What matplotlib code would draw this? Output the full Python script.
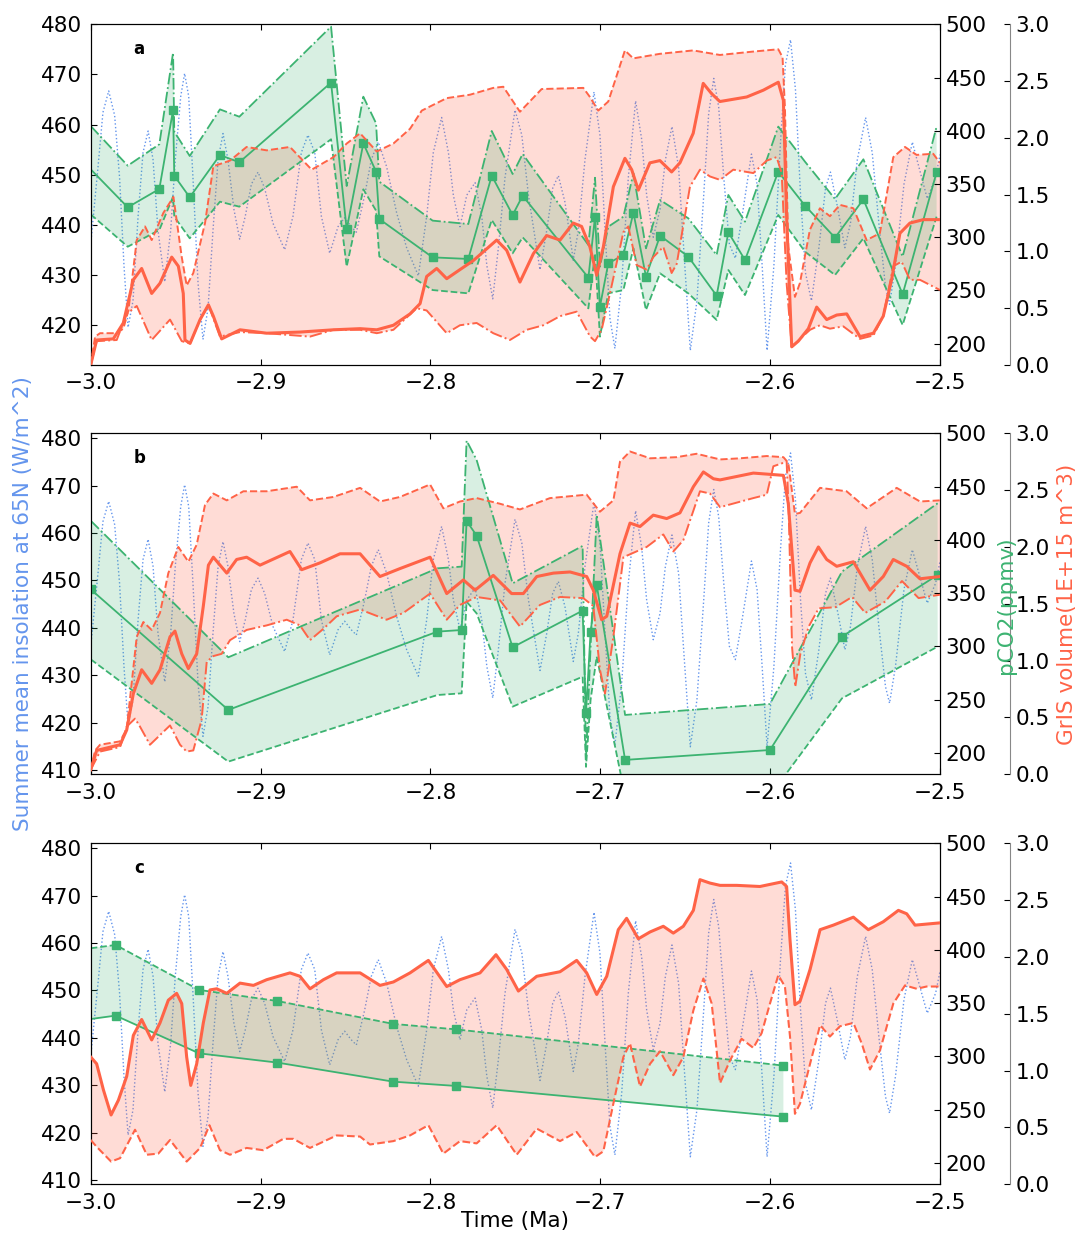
import numpy as np
import matplotlib
matplotlib.use('Agg')
import matplotlib.pyplot as plt

# ---------------- data ----------------
xticks = [-3.0, -2.9, -2.8, -2.7, -2.6, -2.5]
co2_ticks = [200, 250, 300, 350, 400, 450, 500]
gris_ticks = [0.0, 0.5, 1.0, 1.5, 2.0, 2.5, 3.0]

# summer insolation at 65N (same series in every panel)
ins_t = [-3.0, -2.9957, -2.9928, -2.9894, -2.9859, -2.9830, -2.9804, -2.9780, -2.9751, -2.9721,
         -2.9692, -2.9662, -2.9633, -2.9604, -2.9564, -2.9529, -2.9502, -2.9470, -2.9447, -2.9423,
         -2.9398, -2.9368, -2.9339, -2.9309, -2.9280, -2.9250, -2.9221, -2.9192, -2.9157, -2.9123,
         -2.9090, -2.9054, -2.9015, -2.8976, -2.8927, -2.8858, -2.8809, -2.8760, -2.8721, -2.8681,
         -2.8642, -2.8593, -2.8544, -2.8505, -2.8466, -2.8436, -2.8387, -2.8348, -2.8307, -2.8258,
         -2.8199, -2.8140, -2.8071, -2.8022, -2.7983, -2.7934, -2.7894, -2.7865, -2.7826, -2.7786,
         -2.7737, -2.7698, -2.7668, -2.7633, -2.7600, -2.7561, -2.7502, -2.7462, -2.7423, -2.7355,
         -2.7315, -2.7280, -2.7247, -2.7208, -2.7178, -2.7159, -2.7129, -2.7090, -2.7037, -2.7002,
         -2.6972, -2.6943, -2.6914, -2.6874, -2.6835, -2.6792, -2.6757, -2.6727, -2.6688, -2.6648,
         -2.6617, -2.6578, -2.6539, -2.6509, -2.6470, -2.6431, -2.6391, -2.6362, -2.6332, -2.6303,
         -2.6273, -2.6240, -2.6205, -2.6165, -2.6110, -2.6077, -2.6047, -2.6018, -2.5978, -2.5939,
         -2.5910, -2.5880, -2.5851, -2.5821, -2.5792, -2.5757, -2.5713, -2.5674, -2.5645, -2.5605,
         -2.5560, -2.5527, -2.5487, -2.5438, -2.5399, -2.5360, -2.5321, -2.5297, -2.5262, -2.5212,
         -2.5163, -2.5124, -2.5075, -2.5026, -2.5]
ins_v = [436.1, 451.5, 462.4, 466.7, 461.8, 449.4, 431.8, 419.5, 424.8, 441.7,
         454.4, 458.7, 453.0, 438.9, 428.6, 438.9, 453.0, 465.6, 470.2, 465.6,
         449.4, 428.3, 417.1, 423.4, 438.9, 453.0, 458.2, 453.0, 443.1, 437.1,
         441.7, 448.1, 450.5, 447.3, 440.3, 435.0, 441.7, 454.4, 457.9, 454.4,
         441.7, 434.3, 439.6, 441.4, 439.6, 438.5, 445.9, 453.0, 456.5, 451.6,
         442.4, 435.4, 429.8, 441.7, 454.4, 461.4, 454.4, 445.9, 439.6, 445.9,
         448.4, 441.7, 431.9, 425.2, 435.4, 449.4, 462.9, 457.9, 445.9, 431.0,
         438.9, 447.3, 449.8, 444.5, 437.5, 432.9, 438.9, 453.0, 466.5, 457.9,
         438.9, 421.3, 415.3, 428.3, 449.4, 464.7, 457.2, 445.9, 437.5, 443.1,
         452.9, 459.6, 451.5, 435.3, 414.9, 424.8, 445.9, 462.1, 469.2, 463.5,
         449.4, 436.1, 433.3, 441.7, 454.1, 448.1, 431.8, 414.9, 431.8, 456.5,
         472.0, 476.9, 467.0, 445.9, 430.4, 424.8, 435.4, 447.3, 450.5, 443.8,
         435.4, 440.3, 452.9, 461.4, 454.4, 440.3, 427.6, 424.1, 431.9, 448.1,
         456.5, 451.5, 445.2, 449.4, 454.0]

# ---- panel a: GrIS volume ----
a_gris_hi_t = [-3.0, -2.9974, -2.9945, -2.9847, -2.9808, -2.9778, -2.9729, -2.9680, -2.9641, -2.9572,
               -2.9513, -2.9464, -2.9435, -2.9396, -2.9327, -2.9278, -2.9180, -2.9082, -2.8964, -2.8827,
               -2.8699, -2.8571, -2.8493, -2.8414, -2.8316, -2.8218, -2.8120, -2.8051, -2.7904, -2.7767,
               -2.7630, -2.7571, -2.7473, -2.7345, -2.7100, -2.7061, -2.7012, -2.6953, -2.6855, -2.6806,
               -2.6649, -2.6453, -2.6296, -2.6099, -2.5952, -2.5927, -2.5913, -2.5893, -2.5854, -2.5825,
               -2.5766, -2.5707, -2.5648, -2.5589, -2.5510, -2.5432, -2.5354, -2.5275, -2.5206, -2.5138,
               -2.5040, -2.5]
a_gris_hi_v = [0.0, 0.25, 0.28, 0.28, 0.32, 0.48, 1.10, 1.22, 1.10, 1.34,
               1.48, 0.95, 0.70, 0.81, 1.25, 1.75, 1.80, 1.92, 1.89, 1.92,
               1.72, 1.83, 1.95, 2.04, 1.88, 1.95, 2.08, 2.24, 2.35, 2.38,
               2.44, 2.45, 2.23, 2.43, 2.44, 2.36, 2.24, 2.32, 2.77, 2.70,
               2.74, 2.77, 2.73, 2.76, 2.78, 2.71, 2.27, 1.04, 0.60, 0.72,
               1.19, 1.38, 1.31, 1.41, 1.38, 1.10, 1.16, 1.83, 1.92, 1.85,
               1.86, 1.78]
a_gris_mid_t = [-3.0, -2.9965, -2.9867, -2.9808, -2.9749, -2.9700, -2.9641, -2.9592, -2.9523, -2.9484,
                -2.9455, -2.9445, -2.9415, -2.9356, -2.9307, -2.9278, -2.9229, -2.9121, -2.8964, -2.8768,
                -2.8571, -2.8414, -2.8316, -2.8218, -2.8120, -2.8061, -2.8022, -2.7963, -2.7904, -2.7826,
                -2.7747, -2.7610, -2.7551, -2.7473, -2.7394, -2.7316, -2.7237, -2.7159, -2.7110, -2.7061,
                -2.7021, -2.6982, -2.6923, -2.6855, -2.6815, -2.6776, -2.6708, -2.6649, -2.6580, -2.6531,
                -2.6453, -2.6394, -2.6345, -2.6296, -2.6256, -2.6138, -2.6040, -2.5952, -2.5922, -2.5903,
                -2.5873, -2.5834, -2.5775, -2.5726, -2.5667, -2.5608, -2.5549, -2.5471, -2.5392, -2.5334,
                -2.5285, -2.5236, -2.5177, -2.5098, -2.5]
a_gris_mid_v = [0.0, 0.22, 0.23, 0.37, 0.75, 0.85, 0.63, 0.72, 0.95, 0.87,
                0.63, 0.22, 0.19, 0.40, 0.53, 0.43, 0.23, 0.31, 0.28, 0.29,
                0.31, 0.32, 0.31, 0.35, 0.45, 0.54, 0.78, 0.85, 0.76, 0.84,
                0.92, 1.10, 1.01, 0.73, 0.98, 1.14, 1.10, 1.25, 1.22, 1.04,
                0.79, 1.04, 1.57, 1.82, 1.72, 1.54, 1.78, 1.80, 1.70, 1.78,
                2.04, 2.48, 2.39, 2.32, 2.33, 2.36, 2.42, 2.49, 2.33, 1.31,
                0.16, 0.21, 0.32, 0.51, 0.40, 0.44, 0.45, 0.25, 0.28, 0.43,
                0.75, 1.16, 1.25, 1.28, 1.28]
a_gris_lo_t = [-3.0, -2.9965, -2.9847, -2.9788, -2.9729, -2.9641, -2.9533, -2.9464, -2.9415, -2.9356,
               -2.9307, -2.9239, -2.9121, -2.8964, -2.8709, -2.8571, -2.8414, -2.8316, -2.8218, -2.8081,
               -2.8022, -2.7904, -2.7826, -2.7728, -2.7630, -2.7532, -2.7433, -2.7335, -2.7237, -2.7139,
               -2.7060, -2.7031, -2.6992, -2.6943, -2.6864, -2.6835, -2.6786, -2.6727, -2.6688, -2.6629,
               -2.6580, -2.6550, -2.6472, -2.6413, -2.6354, -2.6295, -2.6217, -2.6099, -2.6020, -2.5962,
               -2.5932, -2.5903, -2.5873, -2.5824, -2.5765, -2.5707, -2.5648, -2.5569, -2.5471, -2.5392,
               -2.5334, -2.5275, -2.5226, -2.5177, -2.5118, -2.5]
a_gris_lo_v = [0.0, 0.21, 0.22, 0.45, 0.52, 0.22, 0.40, 0.21, 0.19, 0.40,
               0.53, 0.25, 0.29, 0.28, 0.25, 0.31, 0.31, 0.28, 0.31, 0.50,
               0.48, 0.28, 0.35, 0.37, 0.28, 0.22, 0.31, 0.35, 0.43, 0.47,
               0.25, 0.21, 0.31, 0.63, 1.17, 1.22, 0.88, 0.84, 0.95, 1.04,
               0.81, 0.89, 1.57, 1.72, 1.66, 1.63, 1.72, 1.69, 1.80, 1.83,
               1.69, 0.72, 0.16, 0.23, 0.31, 0.35, 0.32, 0.34, 0.23, 0.26,
               0.43, 0.87, 0.91, 0.75, 0.75, 0.66]

# ---- panel a: pCO2 ----
a_co2_t = [-3.0, -2.9782, -2.9596, -2.9515, -2.9508, -2.9417, -2.9239, -2.9125, -2.8585, -2.8493,
           -2.8395, -2.8320, -2.8301, -2.7987, -2.7777, -2.7639, -2.7516, -2.7457, -2.7070, -2.7031,
           -2.7002, -2.6953, -2.6864, -2.6805, -2.6731, -2.6648, -2.6482, -2.6315, -2.6246, -2.6148,
           -2.5952, -2.5795, -2.5618, -2.5451, -2.5220, -2.5020]
a_co2_mid = [363.8, 328.1, 345.3, 419.5, 357.8, 337.5, 377.2, 370.4, 445.2, 307.4,
             388.2, 361.6, 317.1, 281.1, 279.6, 357.8, 320.9, 339.0, 262.0, 319.3,
             234.8, 275.5, 283.3, 323.1, 263.0, 301.5, 281.8, 245.1, 304.6, 278.6,
             361.6, 329.7, 299.6, 335.6, 246.4, 361.0]
a_co2_hi = [404.5, 367.2, 387.3, 473.4, 399.2, 376.3, 420.1, 413.2, 497.8, 348.1,
            432.0, 407.0, 352.2, 315.6, 312.4, 399.8, 359.4, 378.2, 292.7, 355.9,
            272.4, 309.9, 319.3, 360.0, 289.6, 335.0, 317.8, 283.3, 339.7, 314.6,
            403.9, 371.0, 335.9, 373.2, 281.8, 403.9]
a_co2_lo = [321.5, 291.1, 306.8, 338.1, 319.3, 299.0, 333.4, 328.7, 392.0, 272.4,
            345.0, 325.0, 282.0, 250.4, 247.3, 316.2, 284.9, 299.9, 233.2, 284.9,
            206.6, 247.3, 250.4, 289.6, 231.7, 266.1, 247.3, 222.3, 269.2, 245.7,
            320.9, 286.5, 264.5, 299.0, 217.6, 319.3]

# ---- panel b: GrIS volume ----
b_gris_hi_t = [-3.0, -2.9974, -2.9945, -2.9827, -2.9788, -2.9729, -2.9690, -2.9641, -2.9592, -2.9543,
               -2.9484, -2.9425, -2.9376, -2.9327, -2.9278, -2.9199, -2.9101, -2.8964, -2.8787, -2.8709,
               -2.8571, -2.8414, -2.8297, -2.8179, -2.8002, -2.7924, -2.7826, -2.7728, -2.7590, -2.7473,
               -2.7296, -2.7080, -2.7002, -2.6923, -2.6884, -2.6825, -2.6707, -2.6550, -2.6433, -2.6295,
               -2.6177, -2.6020, -2.5922, -2.5893, -2.5854, -2.5824, -2.5706, -2.5550, -2.5432, -2.5255,
               -2.5118, -2.5]
b_gris_hi_v = [0.04, 0.21, 0.26, 0.29, 0.40, 1.21, 1.34, 1.27, 1.42, 1.77,
               2.00, 1.87, 2.02, 2.37, 2.47, 2.41, 2.49, 2.49, 2.53, 2.41,
               2.44, 2.52, 2.40, 2.44, 2.55, 2.34, 2.40, 2.43, 2.38, 2.33,
               2.43, 2.46, 2.31, 2.41, 2.75, 2.84, 2.78, 2.79, 2.82, 2.77,
               2.78, 2.80, 2.79, 2.74, 2.29, 2.30, 2.52, 2.49, 2.34, 2.52,
               2.40, 2.41]
b_gris_mid_t = [-3.0, -2.9965, -2.9827, -2.9788, -2.9749, -2.9700, -2.9641, -2.9592, -2.9533, -2.9504,
                -2.9464, -2.9425, -2.9376, -2.9337, -2.9307, -2.9278, -2.9199, -2.9141, -2.9082, -2.9003,
                -2.8827, -2.8758, -2.8650, -2.8532, -2.8414, -2.8297, -2.8179, -2.8002, -2.7904, -2.7806,
                -2.7737, -2.7630, -2.7522, -2.7453, -2.7374, -2.7276, -2.7178, -2.7080, -2.7041, -2.6992,
                -2.6962, -2.6884, -2.6825, -2.6766, -2.6688, -2.6609, -2.6531, -2.6452, -2.6393, -2.6334,
                -2.6295, -2.6099, -2.5922, -2.5893, -2.5854, -2.5824, -2.5765, -2.5716, -2.5667, -2.5608,
                -2.5510, -2.5412, -2.5334, -2.5275, -2.5196, -2.5118, -2.5]
b_gris_mid_v = [0.04, 0.21, 0.26, 0.39, 0.71, 0.92, 0.80, 0.92, 1.21, 1.26,
                1.06, 0.93, 1.06, 1.48, 1.84, 1.91, 1.77, 1.89, 1.91, 1.84,
                1.96, 1.80, 1.86, 1.94, 1.94, 1.74, 1.81, 1.91, 1.59, 1.71,
                1.62, 1.75, 1.59, 1.59, 1.74, 1.77, 1.78, 1.74, 1.62, 1.36,
                1.39, 1.94, 2.21, 2.18, 2.28, 2.25, 2.30, 2.53, 2.66, 2.60,
                2.59, 2.65, 2.63, 2.38, 1.62, 1.61, 1.86, 2.00, 1.89, 1.83,
                1.87, 1.62, 1.74, 1.89, 1.83, 1.72, 1.74]
b_gris_lo_t = [-3.0, -2.9945, -2.9827, -2.9788, -2.9739, -2.9710, -2.9651, -2.9533, -2.9474, -2.9435,
               -2.9396, -2.9347, -2.9317, -2.9278, -2.9229, -2.9180, -2.9082, -2.8964, -2.8846, -2.8768,
               -2.8709, -2.8630, -2.8552, -2.8414, -2.8258, -2.8159, -2.8002, -2.7904, -2.7826, -2.7728,
               -2.7590, -2.7473, -2.7355, -2.7237, -2.7100, -2.7041, -2.7002, -2.6972, -2.6923, -2.6864,
               -2.6727, -2.6629, -2.6570, -2.6511, -2.6413, -2.6354, -2.6295, -2.6099, -2.6020, -2.5981,
               -2.5903, -2.5891, -2.5871, -2.5852, -2.5822, -2.5773, -2.5714, -2.5616, -2.5518, -2.5440,
               -2.5322, -2.5224, -2.5126, -2.5]
b_gris_lo_v = [0.04, 0.20, 0.24, 0.42, 0.49, 0.42, 0.26, 0.43, 0.26, 0.20,
               0.21, 0.48, 0.99, 1.04, 1.06, 1.18, 1.27, 1.31, 1.36, 1.31,
               1.18, 1.28, 1.39, 1.45, 1.36, 1.42, 1.59, 1.36, 1.49, 1.56,
               1.53, 1.30, 1.49, 1.56, 1.55, 1.48, 0.92, 0.71, 1.21, 1.91,
               2.00, 2.11, 1.96, 2.06, 2.49, 2.47, 2.35, 2.43, 2.46, 2.71,
               2.75, 2.33, 1.12, 0.77, 1.06, 1.30, 1.46, 1.47, 1.56, 1.42,
               1.52, 1.70, 1.55, 1.58]

# ---- panel b: pCO2 ----
b_co2_t = [-3.0, -2.9190, -2.7959, -2.7816, -2.7787, -2.7728, -2.7516, -2.7104, -2.7084, -2.7057,
           -2.7021, -2.6854, -2.6001, -2.5577, -2.5014]
b_co2_mid = [353.6, 240.4, 313.9, 315.4, 417.7, 404.0, 299.2, 333.6, 237.2, 313.9,
             357.7, 193.5, 202.8, 309.2, 367.1]
b_co2_hi = [418.0, 289.8, 373.3, 374.9, 493.1, 475.0, 359.2, 394.3, 195.0, 300.0,
            423.4, 235.7, 246.0, 370.2, 434.3]
b_co2_lo = [287.9, 191.9, 254.4, 256.0, 342.0, 331.0, 243.5, 271.6, 187.0, 250.0,
            290.4, 160.0, 160.0, 251.3, 299.8]

# ---- panel c: GrIS volume ----
c_gris_hi_t = [-3.0, -2.9965, -2.9925, -2.9880, -2.9837, -2.9788, -2.9749, -2.9700, -2.9641, -2.9592,
               -2.9543, -2.9494, -2.9464, -2.9435, -2.9411, -2.9376, -2.9337, -2.9298, -2.9258, -2.9199,
               -2.9121, -2.9042, -2.8964, -2.8827, -2.8768, -2.8709, -2.8630, -2.8552, -2.8414, -2.8297,
               -2.8218, -2.8120, -2.8012, -2.7904, -2.7826, -2.7708, -2.7614, -2.7551, -2.7482, -2.7374,
               -2.7237, -2.7139, -2.7080, -2.7021, -2.6962, -2.6894, -2.6845, -2.6776, -2.6707, -2.6629,
               -2.6570, -2.6511, -2.6452, -2.6413, -2.6354, -2.6295, -2.6197, -2.6060, -2.5932, -2.5903,
               -2.5883, -2.5854, -2.5824, -2.5765, -2.5706, -2.5628, -2.5510, -2.5422, -2.5334, -2.5245,
               -2.5196, -2.5147, -2.5]
c_gris_hi_v = [1.12, 1.06, 0.83, 0.61, 0.74, 0.95, 1.31, 1.45, 1.27, 1.42,
               1.62, 1.68, 1.59, 1.12, 0.87, 1.06, 1.42, 1.71, 1.72, 1.68,
               1.77, 1.75, 1.80, 1.86, 1.83, 1.72, 1.80, 1.86, 1.86, 1.75,
               1.78, 1.86, 1.97, 1.74, 1.80, 1.86, 2.02, 1.89, 1.70, 1.83,
               1.87, 1.97, 1.86, 1.67, 1.83, 2.24, 2.34, 2.16, 2.22, 2.27,
               2.21, 2.27, 2.41, 2.68, 2.65, 2.63, 2.63, 2.62, 2.66, 2.62,
               2.15, 1.58, 1.61, 1.89, 2.24, 2.28, 2.35, 2.24, 2.31, 2.41,
               2.38, 2.28, 2.30]
c_gris_lo_t = [-3.0, -2.9965, -2.9880, -2.9827, -2.9739, -2.9670, -2.9602, -2.9533, -2.9435, -2.9356,
               -2.9301, -2.9239, -2.9180, -2.9082, -2.8984, -2.8866, -2.8807, -2.8709, -2.8552, -2.8414,
               -2.8356, -2.8218, -2.8120, -2.8012, -2.7924, -2.7826, -2.7728, -2.7610, -2.7492, -2.7374,
               -2.7237, -2.7139, -2.7031, -2.6982, -2.6923, -2.6864, -2.6825, -2.6766, -2.6707, -2.6648,
               -2.6570, -2.6511, -2.6452, -2.6393, -2.6344, -2.6295, -2.6236, -2.6168, -2.6099, -2.6050,
               -2.6001, -2.5952, -2.5913, -2.5883, -2.5854, -2.5824, -2.5765, -2.5706, -2.5648, -2.5589,
               -2.5510, -2.5461, -2.5412, -2.5353, -2.5275, -2.5206, -2.5137, -2.5079, -2.5]
c_gris_lo_v = [0.39, 0.33, 0.20, 0.23, 0.48, 0.26, 0.27, 0.39, 0.20, 0.32,
               0.52, 0.30, 0.26, 0.32, 0.30, 0.40, 0.40, 0.32, 0.43, 0.42,
               0.35, 0.38, 0.43, 0.52, 0.27, 0.38, 0.36, 0.52, 0.26, 0.49,
               0.38, 0.46, 0.24, 0.29, 0.71, 1.12, 1.24, 0.86, 1.06, 1.17,
               0.96, 1.12, 1.53, 1.81, 1.59, 0.89, 1.09, 1.28, 1.20, 1.33,
               1.59, 1.84, 1.74, 1.30, 0.62, 0.71, 1.06, 1.40, 1.30, 1.39,
               1.42, 1.24, 1.01, 1.18, 1.59, 1.75, 1.72, 1.74, 1.74]

# ---- panel c: pCO2 ----
c_co2_t = [-3.0, -2.9853, -2.9362, -2.8901, -2.8218, -2.7849, -2.5922]
c_co2_hi = [401.5, 404.6, 362.4, 352.0, 330.5, 325.4, 291.4]
c_co2_lo = [335.1, 338.3, 302.9, 294.2, 276.3, 272.3, 243.5]

# ---------------- styling ----------------
RED = '#FF6347'
GREEN = '#3CB371'
BLUE = '#6495ED'
FS = 15.5
MS = 6

W, H = 1081, 1235
fig = plt.figure(figsize=(W / 100, H / 100), dpi=100)

left = 90.7 / W
width = (940 - 90.7) / W
panel_px = [(24.3, 365.0), (433.3, 774.3), (843.3, 1184.3)]
ins_lims = [(412.0, 480.0), (409.1, 481.05), (409.1, 481.05)]
ins_ticks = [[420, 430, 440, 450, 460, 470, 480],
             [410, 420, 430, 440, 450, 460, 470, 480],
             [410, 420, 430, 440, 450, 460, 470, 480]]
letters = ['a', 'b', 'c']


def poly(ax, t_hi, v_hi, t_lo, v_lo, color, alpha, **kw):
    xs = np.concatenate([np.asarray(t_hi), np.asarray(t_lo)[::-1]])
    ys = np.concatenate([np.asarray(v_hi), np.asarray(v_lo)[::-1]])
    ax.fill(xs, ys, color=color, alpha=alpha, lw=0, **kw)


axes = []
for i, (top, bot) in enumerate(panel_px):
    rect = [left, 1 - bot / H, width, (bot - top) / H]
    ax = fig.add_axes(rect)
    ax.set_xlim(-3.0, -2.5)
    ax.set_ylim(*ins_lims[i])
    ax.set_xticks(xticks)
    ax.set_yticks(ins_ticks[i])
    ax.tick_params(direction='in', length=4, width=0.8, labelsize=FS, pad=6,
                   top=True, right=False)
    ax.plot(ins_t, ins_v, ls=':', color=BLUE, lw=1.0)
    ax.text(0.057, 0.9275, letters[i], transform=ax.transAxes, fontsize=12,
            fontweight='bold', ha='center', va='center')

    ax2 = ax.twinx()
    ax2.set_ylim(180, 500)
    ax2.set_yticks(co2_ticks)
    ax2.tick_params(direction='in', length=4, width=0.8, labelsize=FS, pad=4)

    ax3 = ax.twinx()
    ax3.set_ylim(0, 3.0)
    ax3.set_yticks(gris_ticks)
    ax3.spines['right'].set_position(('axes', 1.0824))
    ax3.spines['right'].set_color('#888888')
    for s in ('left', 'top', 'bottom'):
        ax3.spines[s].set_visible(False)
    ax3.tick_params(direction='in', length=4, width=0.8, labelsize=FS, pad=4)
    axes.append((ax, ax2, ax3))

GRIS_FILL = dict(zorder=0.5)

# ---- panel a ----
ax, ax2, ax3 = axes[0]
poly(ax2, a_gris_hi_t, a_gris_hi_v, a_gris_lo_t, a_gris_lo_v, RED, 0.22,
     transform=ax3.transData, **GRIS_FILL)
poly(ax2, a_co2_t, a_co2_hi, a_co2_t, a_co2_lo, GREEN, 0.2, zorder=0.6)
ax2.plot(a_co2_t, a_co2_hi, ls='-.', color=GREEN, lw=1.3)
ax2.plot(a_co2_t, a_co2_lo, ls='--', color=GREEN, lw=1.3)
ax2.plot(a_co2_t, a_co2_mid, ls='-', color=GREEN, lw=1.3, marker='s', ms=MS,
         markevery=list(range(1, len(a_co2_t))))
ax3.plot(a_gris_hi_t, a_gris_hi_v, ls='--', color=RED, lw=1.4)
ax3.plot(a_gris_lo_t, a_gris_lo_v, ls='-.', color=RED, lw=1.4)
ax3.plot(a_gris_mid_t, a_gris_mid_v, ls='-', color=RED, lw=2.2)

# ---- panel b ----
ax, ax2, ax3 = axes[1]
poly(ax2, b_gris_hi_t, b_gris_hi_v, b_gris_lo_t, b_gris_lo_v, RED, 0.22,
     transform=ax3.transData, **GRIS_FILL)
poly(ax2, b_co2_t, b_co2_hi, b_co2_t, b_co2_lo, GREEN, 0.2, zorder=0.6)
ax2.plot(b_co2_t, b_co2_hi, ls='-.', color=GREEN, lw=1.3)
ax2.plot(b_co2_t, b_co2_lo, ls='--', color=GREEN, lw=1.3)
ax2.plot(b_co2_t, b_co2_mid, ls='-', color=GREEN, lw=1.3, marker='s', ms=MS)
ax3.plot(b_gris_hi_t, b_gris_hi_v, ls='--', color=RED, lw=1.4)
ax3.plot(b_gris_lo_t, b_gris_lo_v, ls='-.', color=RED, lw=1.4)
ax3.plot(b_gris_mid_t, b_gris_mid_v, ls='-', color=RED, lw=2.2)

# ---- panel c ----
ax, ax2, ax3 = axes[2]
poly(ax2, c_gris_hi_t, c_gris_hi_v, c_gris_lo_t, c_gris_lo_v, RED, 0.22,
     transform=ax3.transData, **GRIS_FILL)
poly(ax2, c_co2_t, c_co2_hi, c_co2_t, c_co2_lo, GREEN, 0.2, zorder=0.6)
ax2.plot(c_co2_t, c_co2_hi, ls='--', color=GREEN, lw=1.3, marker='s', ms=MS,
         markevery=list(range(1, len(c_co2_t))))
ax2.plot(c_co2_t, c_co2_lo, ls='-', color=GREEN, lw=1.3, marker='s', ms=MS,
         markevery=list(range(1, len(c_co2_t))))
ax3.plot(c_gris_hi_t, c_gris_hi_v, ls='-', color=RED, lw=2.2)
ax3.plot(c_gris_lo_t, c_gris_lo_v, ls='--', color=RED, lw=1.5)

# ---- labels ----
fig.text(23 / W, 1 - 603.8 / H, 'Summer mean insolation at 65N (W/m^2)', rotation=90,
         color=BLUE, fontsize=FS, ha='center', va='center')
fig.text(1006 / W, 1 - 605 / H, 'pCO2(ppmv)', rotation=90, color=GREEN,
         fontsize=FS, ha='center', va='center')
fig.text(1067 / W, 1 - 604 / H, 'GrIS volume(1E+15 m^3)', rotation=90, color=RED,
         fontsize=FS, ha='center', va='center')
fig.text(515.3 / W, 1 - 1221 / H, 'Time (Ma)', fontsize=FS, ha='center', va='center')

fig.savefig('out.png', dpi=100)
